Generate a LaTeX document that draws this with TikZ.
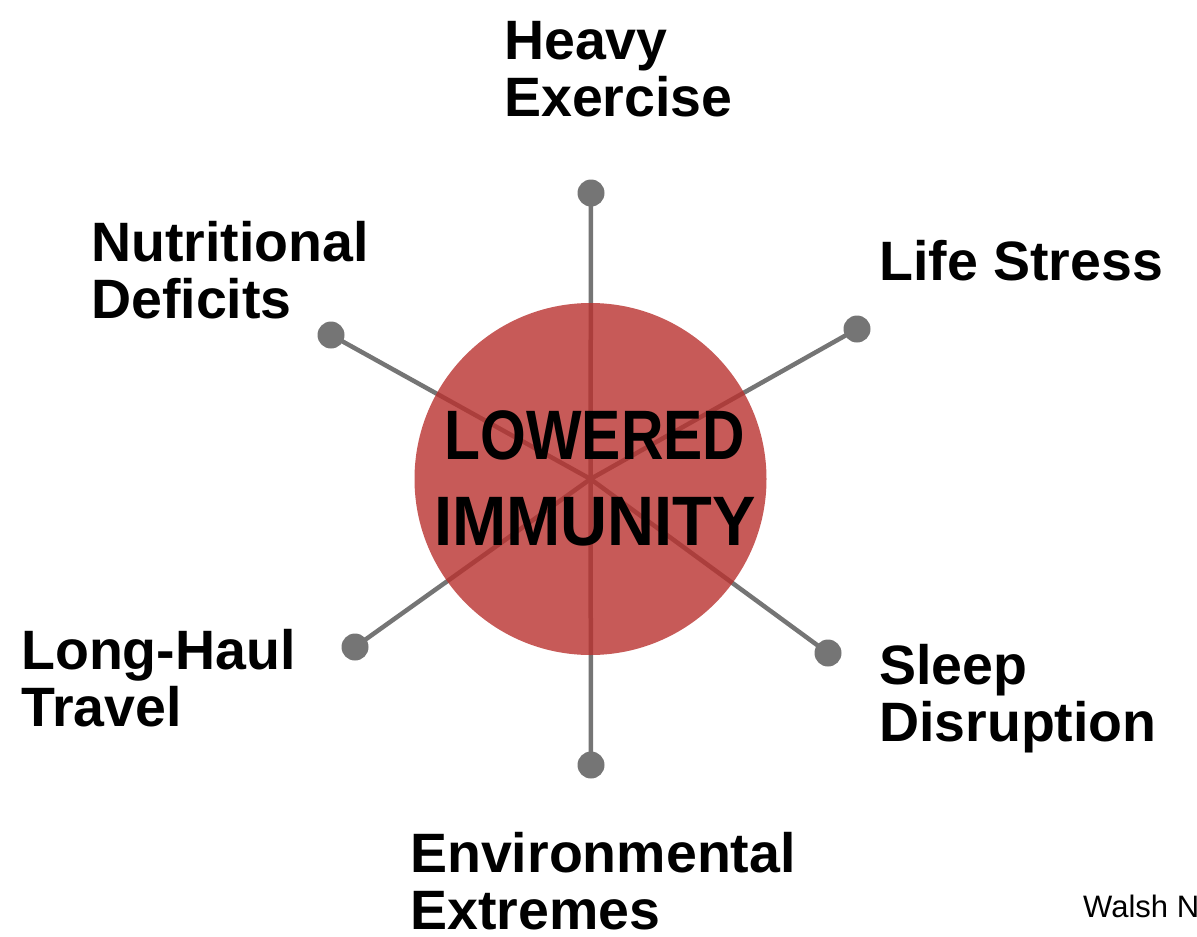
\documentclass[tikz,border=0pt]{standalone}
\usepackage{fontspec}
\setmainfont{Liberation Sans}
\usepackage{graphicx}
\definecolor{spoke}{HTML}{757575}
\definecolor{hub}{RGB}{185,49,46}
\begin{document}
\begin{tikzpicture}[x=1pt,y=-1pt,
  spokeline/.style={draw=spoke,line width=4.5pt},
  spokedot/.style={circle,fill=spoke,inner sep=0pt,minimum size=27pt},
  label/.style={anchor=north west,inner sep=0pt,align=left,font=\fontsize{55.5}{57}\selectfont\bfseries},
  hubtext/.style={inner sep=0pt,align=center,font=\fontsize{70}{88}\selectfont\bfseries}]
\useasboundingbox (0,0) rectangle (1197,937);
\clip (0,0) rectangle (1197,937);
\coordinate (c) at (590.5,479);
% spoke end dots
\node[spokedot] (dHE) at (591,193) {};
\node[spokedot] (dLS) at (857,329) {};
\node[spokedot] (dSD) at (828,653) {};
\node[spokedot] (dEE) at (591,765) {};
\node[spokedot] (dLH) at (355,647) {};
\node[spokedot] (dND) at (331,335) {};
\foreach \d in {dHE,dLS,dSD,dEE,dLH,dND}
  \draw[spokeline] (c) -- (\d.center);
% hub
\fill[hub,fill opacity=0.8] (c) circle[radius=176pt];
\node[hubtext] (hub) at (595,478) {\scalebox{0.84}[1]{LOWERED}\\[-2pt]\scalebox{0.93}[1]{IMMUNITY}};
% labels
\node[label] (HE) at (504,21) {Heavy\\Exercise};
\node[label] (ND) at (91,221) {Nutritional\\Deficits};
\node[label] (LS) at (879,240) {Life Stress};
\node[label] (LH) at (21,629) {Long-Haul\\Travel};
\node[label] (SD) at (879,644) {Sleep\\Disruption};
\node[label] (EE) at (410,832) {Environmental\\Extremes};
\node[anchor=base west,inner sep=0pt,font=\fontsize{31}{36}\selectfont] (src) at (1083,917) {Walsh N};
\end{tikzpicture}
\end{document}
